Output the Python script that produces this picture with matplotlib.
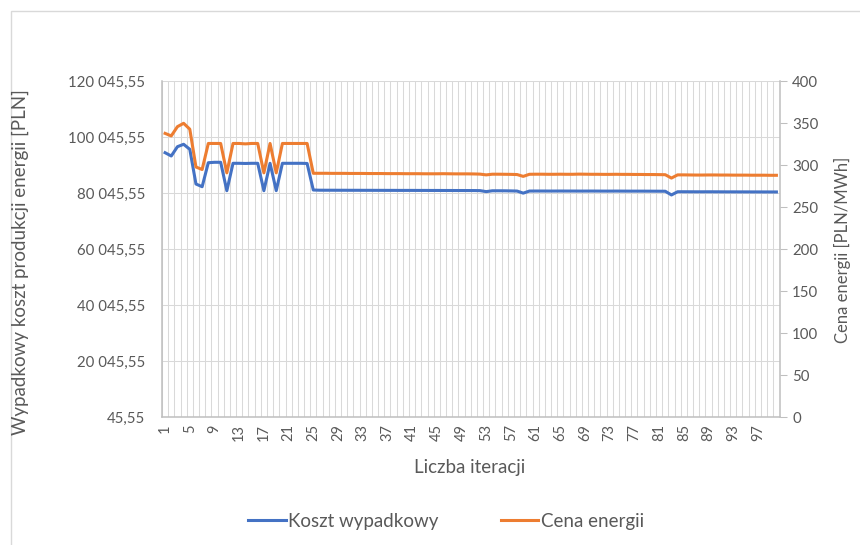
#!/usr/bin/env python3
"""Koszt wypadkowy vs cena energii over iterations (Excel-style combo, two y axes)."""

import matplotlib
matplotlib.use('Agg')
import matplotlib.pyplot as plt
from matplotlib.patches import Rectangle
from matplotlib.ticker import FixedLocator, FuncFormatter

BLUE = '#4472C4'
ORANGE = '#ED7D31'
GRID = '#D9D9D9'
AXIS = '#BFBFBF'
TEXT = '#595959'

plt.rcParams['font.family'] = ['Lato', 'DejaVu Sans']

# ── data ─────────────────────────────────────────────────────────────────────
iterations = list(range(1, 101))

koszt = [
    94545, 93370, 96690, 97550, 95760, 83370, 82400, 90970, 91120, 91120,
    80970, 90760, 90760, 90700, 90760, 90760, 80970, 90760, 81000, 90760,
    90760, 90760, 90760, 90700, 81220,
    81150, 81140, 81140, 81130, 81130, 81120, 81120, 81110, 81110, 81100,
    81100, 81090, 81090, 81080, 81080, 81080, 81070, 81070, 81060, 81060,
    81050, 81050, 81040, 81040, 81030, 81030, 81000,
    80650,
    80950, 80950, 80940, 80900, 80850,
    80100,
    80850, 80860, 80860, 80850, 80850, 80860, 80850, 80850, 80840, 80840,
    80850, 80840, 80830, 80830, 80840, 80830, 80820, 80820, 80820, 80810,
    80800, 80790, 80780,
    79450,
    80600, 80600, 80590, 80580, 80580, 80590, 80580, 80570, 80560, 80560,
    80550, 80550, 80540, 80540, 80530, 80530, 80520,
]

cena = [
    338.0, 335.0, 346.0, 350.0, 343.0, 298.0, 295.0, 326.0, 326.0, 326.0,
    291.0, 326.0, 326.0, 325.5, 326.0, 326.0, 291.0, 326.0, 291.0, 326.0,
    326.0, 326.0, 326.0, 326.0, 290.5,
    290.5, 290.5, 290.4, 290.4, 290.4, 290.3, 290.3, 290.3, 290.2, 290.2,
    290.2, 290.1, 290.1, 290.1, 290.0, 290.0, 290.0, 289.9, 289.9, 289.9,
    290.0, 289.9, 289.8, 289.8, 289.8, 289.7, 289.5,
    288.6,
    289.4, 289.4, 289.3, 289.2, 289.0,
    286.8,
    289.3, 289.4, 289.4, 289.3, 289.3, 289.4, 289.3, 289.3, 289.5, 289.4,
    289.3, 289.3, 289.2, 289.2, 289.3, 289.2, 289.2, 289.1, 289.1, 289.0,
    289.0, 288.9, 288.8,
    284.8,
    288.6, 288.6, 288.5, 288.4, 288.4, 288.5, 288.5, 288.4, 288.4, 288.3,
    288.3, 288.3, 288.2, 288.2, 288.2, 288.1, 288.1,
]

left_ticks = [45.55 + 20000 * k for k in range(7)]
right_ticks = list(range(0, 401, 50))
x_labels = list(range(1, 101, 4))


def pl_num(v, pos=None):
    return f"{v:,.2f}".replace(",", " ").replace(".", ",")


# ── figure ───────────────────────────────────────────────────────────────────
W, H = 860, 545
fig = plt.figure(figsize=(W / 100, H / 100), dpi=100)
fig.patch.set_facecolor('white')

# chart-area border (right/bottom fall outside the picture)
fig.add_artist(Rectangle((11 / W, -0.1), 1.2, 1 - 11 / H + 0.1,
                         transform=fig.transFigure, fill=False,
                         edgecolor=GRID, lw=1.0))

L, R, T, B = 162, 779.5, 81.3, 417.3
ax = fig.add_axes([L / W, 1 - B / H, (R - L) / W, (B - T) / H])
ax2 = ax.twinx()

ax.plot(iterations, koszt, color=BLUE, lw=2.2, solid_joinstyle='round', zorder=3)
ax2.plot(iterations, cena, color=ORANGE, lw=2.2, solid_joinstyle='round', zorder=3)

# x axis (categories, gridlines between categories)
ax.set_xlim(0.5, 100.5)
ax.xaxis.set_major_locator(FixedLocator(x_labels))
ax.set_xticklabels([str(v) for v in x_labels], rotation=90)
ax.xaxis.set_minor_locator(FixedLocator([k + 0.5 for k in range(0, 101)]))
ax.grid(which='minor', axis='x', color=GRID, lw=0.75)
ax.tick_params(axis='x', which='both', length=0, pad=5, labelsize=10.5,
               labelcolor=TEXT)

# left y
ax.set_ylim(45.55, 120045.55)
ax.yaxis.set_major_locator(FixedLocator(left_ticks))
ax.yaxis.set_major_formatter(FuncFormatter(pl_num))
ax.grid(which='major', axis='y', color=GRID, lw=0.75)
ax.tick_params(axis='y', length=0, pad=12, labelsize=10.8, labelcolor=TEXT)
ax.set_axisbelow(True)

# right y
ax2.set_ylim(0, 400)
ax2.yaxis.set_major_locator(FixedLocator(right_ticks))
ax2.tick_params(axis='y', direction='out', length=5, width=0.75, color=AXIS,
                pad=4, labelsize=10.8, labelcolor=TEXT)

for a in (ax, ax2):
    a.spines['top'].set_visible(False)
    for s in ('left', 'right', 'bottom'):
        a.spines[s].set_color(AXIS)
        a.spines[s].set_linewidth(1.1)
ax.spines['right'].set_visible(False)
ax2.spines['left'].set_visible(False)
ax2.spines['bottom'].set_visible(False)

# axis titles
fig.text(20 / W, 1 - 262 / H, 'Wypadkowy koszt produkcji energii [PLN]',
         rotation=90, ha='center', va='center', fontsize=13.5, color=TEXT)
fig.text(842 / W, 1 - 250 / H, 'Cena energii [PLN/MWh]',
         rotation=90, ha='center', va='center', fontsize=12, color=TEXT)
fig.text(470 / W, 1 - 467 / H, 'Liczba iteracji',
         ha='center', va='center', fontsize=13.5, color=TEXT)

# legend
h1, = ax.plot([], [], color=BLUE, lw=2.2)
h2, = ax.plot([], [], color=ORANGE, lw=2.2)
leg = fig.legend([h1, h2], ['Koszt wypadkowy', 'Cena energii'],
                 loc='center', bbox_to_anchor=(446 / W, 1 - 521 / H), ncol=2,
                 frameon=False, fontsize=13.5, handlelength=2.0,
                 handletextpad=0.15, columnspacing=3.3)
for t in leg.get_texts():
    t.set_color(TEXT)

fig.savefig('out.png', dpi=100, facecolor='white')
plt.close(fig)
